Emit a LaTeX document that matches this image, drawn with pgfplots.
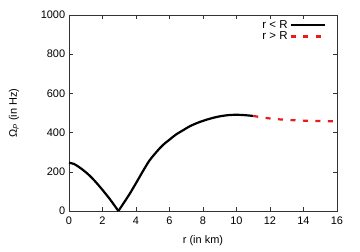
\documentclass[border=0pt]{standalone}
\usepackage{fontspec}
\setmainfont{Liberation Sans}
\usepackage{pgfplots}
\pgfplotsset{compat=1.18}
\definecolor{gnured}{RGB}{232,28,28}
\pgfplotsset{legend image code/.code={\draw[#1] (0bp,0bp) -- (34bp,0bp);}}
\begin{document}
\fontsize{11}{13}\selectfont
\begin{tikzpicture}
\useasboundingbox (-69bp,-41bp) rectangle (291bp,211bp);
\begin{axis}[
  at={(0,0)}, anchor=south west,
  scale only axis, width=268bp, height=196bp,
  xmin=0, xmax=16, ymin=0, ymax=1000,
  xtick={0,2,...,16}, ytick={0,200,...,1000},
  tick align=inside, major tick length=4bp,
  axis line style={line width=0.9pt, black!80},
  every tick/.style={black!80, line width=0.6pt},
  /pgf/number format/assume math mode=true,
  /pgf/number format/.cd, set thousands separator={}, 1000 sep={}, /pgfplots/.cd,
  tick label style={font=\fontsize{11}{13}\selectfont},
  xticklabel style={yshift=-2bp},
  xlabel={r (in km)},
  ylabel={Ω\textsubscript{\itshape P} (in Hz)},
  label style={font=\fontsize{11}{13}\selectfont},
  xlabel style={at={(axis description cs:0.5,-0.153)}, anchor=center},
  ylabel style={at={(axis description cs:-0.205,0.5)}, anchor=center},
  legend plot pos=right,
  legend style={at={(rel axis cs:1,1)}, anchor=north east, xshift=-8bp, yshift=-1bp,
    draw=none, fill=none, font=\fontsize{11.5}{13}\selectfont, row sep=-2bp,
    cells={anchor=east}},
]
\addplot[black, line width=2.2bp, line join=round, smooth, tension=0.5, forget plot] coordinates {
(0,246) (0.3,240) (0.6,224) (0.9,205) (1.2,183) (1.5,157) (1.8,128)
(2.1,97) (2.4,65) (2.7,30) (2.95,0)
};
\addplot[black, line width=2.2bp, line join=round, smooth, tension=0.5] coordinates {
(2.95,0)
(3.3,45) (3.64,90) (4.0,142) (4.44,207) (4.8,257) (5.23,302) (5.6,336)
(6.03,366) (6.4,391) (6.83,413) (7.2,432) (7.62,448) (8.0,460) (8.5,473)
(9.0,483) (9.5,489) (10.0,491) (10.5,489) (11.0,485)
};
\addlegendentry{r < R}
\addplot[gnured, line width=2.2bp, dash pattern=on 5bp off 7.5bp, smooth] coordinates {
(11.0,485) (11.5,478) (12,472) (12.5,468) (13,465) (14,461) (15,459) (16,457)
};
\addlegendentry{r > R}
\end{axis}
\end{tikzpicture}
\end{document}
